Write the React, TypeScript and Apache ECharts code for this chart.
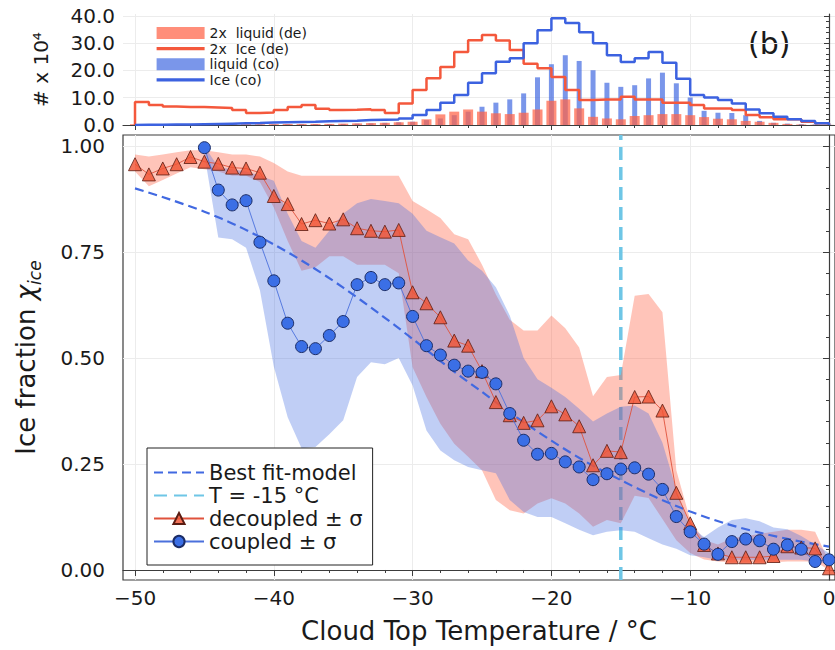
import React, { useEffect, useRef } from "react";
import * as echarts from "echarts";

const FONT = "DejaVu Sans";

// Cloud top temperature grid (°C) for the ice-fraction profiles
const temps = [
  -50, -49, -48, -47, -46, -45, -44, -43, -42, -41, -40, -39, -38, -37, -36, -35, -34,
  -33, -32, -31, -30, -29, -28, -27, -26, -25, -24, -23, -22, -21, -20, -19, -18, -17,
  -16, -15, -14, -13, -12, -11, -10, -9, -8, -7, -6, -5, -4, -3, -2, -1, 0,
];

// Decoupled clouds: mean ice fraction and the ±σ envelope
const decoupledMean = [
  0.957, 0.933, 0.947, 0.957, 0.974, 0.963, 0.958, 0.949, 0.947, 0.937, 0.882, 0.863,
  0.816, 0.825, 0.817, 0.827, 0.806, 0.8, 0.798, 0.802, 0.655, 0.629, 0.596, 0.541,
  0.529, 0.469, 0.396, 0.365, 0.347, 0.353, 0.386, 0.367, 0.339, 0.247, 0.281, 0.278,
  0.408, 0.409, 0.376, 0.182, 0.11, 0.059, 0.039, 0.03, 0.03, 0.03, 0.033, 0.056, 0.053,
  0.051, 0.004,
];
const decoupledLow = [
  0.94, 0.905, 0.92, 0.935, 0.95, 0.945, 0.94, 0.93, 0.93, 0.915, 0.855, 0.776, 0.706,
  0.714, 0.74, 0.74, 0.72, 0.72, 0.72, 0.7, 0.478, 0.408, 0.345, 0.298, 0.267, 0.235,
  0.165, 0.141, 0.133, 0.157, 0.169, 0.157, 0.133, 0.102, 0.118, 0.11, 0.175, 0.17, 0.12,
  0.07, 0.04, 0.025, 0.02, 0.018, 0.018, 0.018, 0.018, 0.02, 0.02, 0.02, 0.0,
];
const decoupledHigh = [
  0.98, 0.975, 0.98, 0.985, 0.99, 0.99, 0.985, 0.98, 0.98, 0.975, 0.96, 0.94, 0.93,
  0.93, 0.93, 0.93, 0.93, 0.93, 0.93, 0.93, 0.87, 0.851, 0.83, 0.792, 0.78, 0.72, 0.65,
  0.59, 0.565, 0.565, 0.6, 0.57, 0.525, 0.41, 0.455, 0.46, 0.647, 0.651, 0.608, 0.235,
  0.118, 0.071, 0.06, 0.075, 0.08, 0.085, 0.09, 0.095, 0.095, 0.09, 0.02,
];

// Coupled clouds start at -45 °C
const coupledTemps = [
  -45, -44, -43, -42, -41, -40, -39, -38, -37, -36, -35, -34, -33, -32, -31, -30, -29,
  -28, -27, -26, -25, -24, -23, -22, -21, -20, -19, -18, -17, -16, -15, -14, -13, -12,
  -11, -10, -9, -8, -7, -6, -5, -4, -3, -2, -1, 0,
];
const coupledMean = [
  0.996, 0.896, 0.861, 0.871, 0.773, 0.682, 0.582, 0.527, 0.522, 0.553, 0.586, 0.673,
  0.69, 0.673, 0.677, 0.598, 0.529, 0.507, 0.483, 0.469, 0.466, 0.439, 0.369, 0.306,
  0.273, 0.275, 0.255, 0.243, 0.213, 0.227, 0.238, 0.241, 0.226, 0.19, 0.126, 0.09,
  0.061, 0.037, 0.067, 0.073, 0.069, 0.049, 0.059, 0.049, 0.02, 0.024,
];
const coupledLow = [
  0.98, 0.784, 0.78, 0.76, 0.66, 0.48, 0.36, 0.287, 0.29, 0.32, 0.353, 0.455, 0.49,
  0.485, 0.5, 0.435, 0.329, 0.282, 0.259, 0.243, 0.235, 0.228, 0.165, 0.137, 0.125,
  0.125, 0.11, 0.095, 0.082, 0.09, 0.094, 0.09, 0.075, 0.06, 0.05, 0.035, 0.03, 0.024,
  0.024, 0.024, 0.024, 0.024, 0.024, 0.024, 0.02, 0.015,
];
const coupledHigh = [
  1.0, 0.95, 0.945, 0.94, 0.93, 0.918, 0.84, 0.776, 0.76, 0.8, 0.84, 0.865, 0.875, 0.87,
  0.865, 0.84, 0.8, 0.785, 0.77, 0.73, 0.706, 0.667, 0.6, 0.5, 0.45, 0.43, 0.408, 0.38,
  0.35, 0.369, 0.385, 0.388, 0.369, 0.3, 0.19, 0.102, 0.078, 0.1, 0.118, 0.122, 0.115,
  0.1, 0.096, 0.08, 0.06, 0.04,
];

// Best fit-model curve
const fitTemps = [
  -50, -47.5, -45, -42.5, -40, -37.5, -35, -32.5, -30, -27.5, -25, -22.5, -20, -17.5,
  -15, -12.5, -10, -7.5, -5, -2.5, 0,
];
const fitValues = [
  0.9, 0.874, 0.845, 0.81, 0.768, 0.72, 0.666, 0.607, 0.545, 0.48, 0.42, 0.36, 0.305,
  0.255, 0.212, 0.172, 0.138, 0.11, 0.088, 0.07, 0.055,
];

const thresholdTemp = -15;

// Histogram counts (# x 10^4); bins are 1 °C wide, keyed by left edge
const binEdges = [
  -50, -49, -48, -47, -46, -45, -44, -43, -42, -41, -40, -39, -38, -37, -36, -35, -34,
  -33, -32, -31, -30, -29, -28, -27, -26, -25, -24, -23, -22, -21, -20, -19, -18, -17,
  -16, -15, -14, -13, -12, -11, -10, -9, -8, -7, -6, -5, -4, -3, -2, -1,
];
const iceDecoupled2x = [
  8.4, 7.3, 6.8, 6.6, 6.6, 6.4, 6.2, 5.5, 4.4, 4.6, 5.5, 6.6, 7.3, 6.0, 5.5, 5.6, 5.8,
  5.5, 4.4, 7.9, 12.8, 17.2, 21.3, 26.8, 31.1, 33.0, 31.0, 27.5, 22.5, 20.8, 17.6, 12.8,
  9.2, 9.4, 9.4, 10.4, 9.4, 9.4, 8.2, 8.2, 7.3, 6.1, 6.1, 5.5, 3.7, 2.8, 2.1, 2.1, 1.2,
  0.6,
];
const iceCoupled = [
  0.1, 0.1, 0.2, 0.2, 0.3, 0.4, 0.5, 0.6, 0.7, 0.9, 1.0, 1.1, 1.2, 1.4, 1.5, 1.6, 1.8,
  1.9, 2.0, 2.4, 3.7, 5.5, 8.2, 11.0, 15.5, 19.0, 23.2, 24.5, 30.0, 34.8, 39.2, 37.4,
  34.0, 30.0, 25.6, 23.1, 24.5, 26.8, 22.8, 17.0, 11.0, 10.1, 9.2, 7.9, 5.7, 4.3, 3.0,
  2.1, 1.5, 0.6,
];
const liquidDecoupled2x = [
  0.3, 0.3, 0.3, 0.3, 0.3, 0.3, 0.3, 0.3, 0.3, 0.3, 0.3, 0.35, 0.35, 0.4, 0.4, 0.5, 0.6,
  0.7, 0.8, 1.0, 1.2, 2.1, 3.9, 4.9, 5.7, 4.9, 4.3, 4.0, 4.5, 5.7, 8.9, 9.4, 6.1, 3.0,
  2.4, 2.1, 3.3, 3.6, 4.0, 4.0, 3.6, 2.9, 2.3, 2.1, 1.5, 1.2, 0.8, 0.4, 0.2, 0.1, 0.05,
];
const liquidCoupled = [
  0.05, 0.05, 0.05, 0.1, 0.1, 0.1, 0.1, 0.15, 0.15, 0.2, 0.2, 0.25, 0.3, 0.3, 0.35, 0.4,
  0.5, 0.6, 0.8, 1.0, 1.2, 1.8, 2.4, 3.6, 4.9, 6.7, 8.2, 9.4, 11.6, 17.5, 22.3, 25.6,
  23.5, 20.1, 15.5, 14.0, 14.6, 17.1, 19.2, 15.3, 10.1, 5.2, 4.5, 4.4, 3.6, 1.5, 0.8, 0.5,
  0.3, 0.2, 0.1,
];

// Tick positions
const xMajorTicks = [-50, -40, -30, -20, -10, 0];
const xMinorTicks = [
  -48, -46, -44, -42, -38, -36, -34, -32, -28, -26, -24, -22, -18, -16, -14, -12, -8, -6,
  -4, -2,
];
const fracMajorTicks = [0, 0.25, 0.5, 0.75, 1.0];
const fracMinorTicks = [
  0.05, 0.1, 0.15, 0.2, 0.3, 0.35, 0.4, 0.45, 0.55, 0.6, 0.65, 0.7, 0.8, 0.85, 0.9, 0.95,
];
const countMajorTicks = [0, 10, 20, 30, 40];
const countMinorTicks = [2, 4, 6, 8, 12, 14, 16, 18, 22, 24, 26, 28, 32, 34, 36, 38];

// Axis extents
const X_MIN = -50.865;
const X_MAX = 0.432;
const FRAC_MIN = -0.0236;
const FRAC_MAX = 1.0259;
const COUNT_MAX = 40.73;

const AXIS_COLOR = "#3c3c3c";
const GRID_COLOR = "#ececec";
const TEXT_COLOR = "#1a1a1a";

const minus = (v: number) => (v < 0 ? "\u2212" + Math.abs(v) : String(v));

function stepRows(edges: number[], values: number[], end: number) {
  const rows: number[][] = [[edges[0], 0]];
  edges.forEach((e, i) => rows.push([e, values[i]]));
  rows.push([end, values[values.length - 1]]);
  rows.push([end, 0]);
  return rows;
}

function bandSeries(
  xs: number[],
  low: number[],
  high: number[],
  fill: string,
  opacity: number,
  z: number
) {
  return {
    type: "custom",
    xAxisIndex: 0,
    yAxisIndex: 0,
    z,
    silent: true,
    clip: true,
    data: [[xs[0], low[0]]],
    renderItem: (_params: any, api: any) => {
      const top = xs.map((x, i) => api.coord([x, high[i]]));
      const bottom = xs.map((x, i) => api.coord([x, low[i]])).reverse();
      return {
        type: "polygon",
        shape: { points: top.concat(bottom) },
        style: { fill, opacity },
      };
    },
  };
}

function minorAxis(gridIndex: number, min: number, max: number, ticks: number[], isX: boolean) {
  return {
    type: "value",
    gridIndex,
    min,
    max,
    position: isX ? "bottom" : "left",
    axisLine: { show: false },
    axisLabel: { show: false },
    splitLine: { show: false },
    axisTick: {
      show: true,
      length: 3,
      customValues: ticks,
      lineStyle: { color: AXIS_COLOR, width: 1 },
    },
  };
}

// Legend entries for plain lines: keep the line, hide the marker
const lineOnly = { itemStyle: { opacity: 0 } };
const thickLineOnly = { itemStyle: { opacity: 0 }, lineStyle: { width: 3.2 } };

const option: any = {
  animation: false,
  backgroundColor: "#ffffff",
  textStyle: { fontFamily: FONT },
  grid: [
    {
      left: 123,
      right: 0,
      top: 135,
      bottom: 70,
      show: true,
      borderColor: AXIS_COLOR,
      borderWidth: 1.2,
      outerBoundsMode: "none",
    },
    { left: 123, right: 0, top: 14, bottom: 525, outerBoundsMode: "none" },
  ],
  xAxis: [
    {
      type: "value",
      gridIndex: 0,
      min: X_MIN,
      max: X_MAX,
      position: "bottom",
      axisLine: { show: true, lineStyle: { color: AXIS_COLOR, width: 1.2 } },
      axisTick: { show: true, length: 6, customValues: xMajorTicks, lineStyle: { color: AXIS_COLOR } },
      axisLabel: {
        customValues: xMajorTicks,
        formatter: minus,
        fontSize: 20,
        color: TEXT_COLOR,
        margin: 8,
        fontFamily: FONT,
      },
      splitLine: { show: true, lineStyle: { color: GRID_COLOR, width: 1 } },
      name: "Cloud Top Temperature / °C",
      nameLocation: "middle",
      nameGap: 38,
      nameMoveOverlap: false,
      nameTextStyle: { fontSize: 26, color: TEXT_COLOR, fontFamily: FONT },
    },
    minorAxis(0, X_MIN, X_MAX, xMinorTicks, true),
    {
      type: "value",
      gridIndex: 1,
      min: X_MIN,
      max: X_MAX,
      position: "bottom",
      axisLine: { show: true, lineStyle: { color: AXIS_COLOR, width: 1.2 } },
      axisTick: { show: true, length: 5, customValues: xMajorTicks, lineStyle: { color: AXIS_COLOR } },
      axisLabel: { show: false, customValues: xMajorTicks },
      splitLine: { show: true, lineStyle: { color: GRID_COLOR, width: 1 } },
    },
    minorAxis(1, X_MIN, X_MAX, xMinorTicks, true),
  ],
  yAxis: [
    {
      type: "value",
      gridIndex: 0,
      min: FRAC_MIN,
      max: FRAC_MAX,
      position: "left",
      axisLine: { show: true, lineStyle: { color: AXIS_COLOR, width: 1.2 } },
      axisTick: { show: true, length: 6, customValues: fracMajorTicks, lineStyle: { color: AXIS_COLOR } },
      axisLabel: {
        customValues: fracMajorTicks,
        formatter: (v: number) => v.toFixed(2),
        fontSize: 20,
        color: TEXT_COLOR,
        margin: 18,
        fontFamily: FONT,
      },
      splitLine: { show: true, lineStyle: { color: GRID_COLOR, width: 1 } },
      name: "{t|Ice fraction }{c|χ}{s|ice}",
      nameLocation: "middle",
      nameGap: 80,
      nameMoveOverlap: false,
      nameTextStyle: {
        color: TEXT_COLOR,
        rich: {
          t: { fontSize: 26, fontFamily: FONT, color: TEXT_COLOR, lineHeight: 34 },
          c: { fontSize: 26, fontFamily: FONT, fontStyle: "italic", color: TEXT_COLOR, lineHeight: 34 },
          s: {
            fontSize: 17,
            fontFamily: FONT,
            fontStyle: "italic",
            color: TEXT_COLOR,
            lineHeight: 34,
            verticalAlign: "bottom",
          },
        },
      },
    },
    minorAxis(0, FRAC_MIN, FRAC_MAX, fracMinorTicks, false),
    {
      type: "value",
      gridIndex: 1,
      min: 0,
      max: COUNT_MAX,
      position: "left",
      axisLine: { show: true, lineStyle: { color: AXIS_COLOR, width: 1.2 } },
      axisTick: { show: true, length: 5, customValues: countMajorTicks, lineStyle: { color: AXIS_COLOR } },
      axisLabel: {
        customValues: countMajorTicks,
        formatter: (v: number) => v.toFixed(1),
        fontSize: 20,
        color: TEXT_COLOR,
        margin: 8,
        fontFamily: FONT,
      },
      splitLine: { show: true, lineStyle: { color: GRID_COLOR, width: 1 } },
      name: "# x 10⁴",
      nameLocation: "middle",
      nameGap: 72,
      nameMoveOverlap: false,
      nameTextStyle: { fontSize: 20, color: TEXT_COLOR, fontFamily: FONT },
    },
    minorAxis(1, 0, COUNT_MAX, countMinorTicks, false),
  ],
  legend: [
    {
      data: [
        { name: "Best fit-model", ...lineOnly },
        { name: "T = -15 °C", ...lineOnly },
        { name: "decoupled ± σ" },
        { name: "coupled ± σ" },
      ],
      orient: "vertical",
      left: 147,
      top: 448,
      backgroundColor: "#ffffff",
      borderColor: "#222222",
      borderWidth: 1,
      borderRadius: 0,
      padding: [14, 10, 13, 6],
      itemGap: 2,
      itemWidth: 50,
      itemHeight: 14,
      selectedMode: false,
      textStyle: { fontSize: 21, fontFamily: FONT, color: TEXT_COLOR },
    },
    {
      data: [
        { name: "2x  liquid (de)", icon: "rect" },
        { name: "2x  Ice (de)", ...thickLineOnly },
        { name: "liquid (co)", icon: "rect" },
        { name: "Ice (co)", ...thickLineOnly },
      ],
      orient: "vertical",
      left: 155,
      top: 26,
      padding: 0,
      itemGap: 1.6,
      itemWidth: 48,
      itemHeight: 12,
      selectedMode: false,
      textStyle: { fontSize: 14, fontFamily: FONT, color: TEXT_COLOR },
    },
  ],
  graphic: [
    {
      type: "text",
      left: 748,
      top: 28,
      style: { text: "(b)", fontSize: 30, fontFamily: FONT, fill: TEXT_COLOR },
    },
  ],
  series: [
    {
      name: "T = -15 °C",
      type: "line",
      xAxisIndex: 0,
      yAxisIndex: 0,
      z: 1,
      symbol: "none",
      data: [
        [thresholdTemp, FRAC_MIN],
        [thresholdTemp, FRAC_MAX],
      ],
      lineStyle: { color: "#6ec6e6", width: 3.5, type: [13, 7] },
      itemStyle: { color: "#6ec6e6" },
    },
    bandSeries(temps, decoupledLow, decoupledHigh, "#ff6347", 0.38, 2),
    bandSeries(coupledTemps, coupledLow, coupledHigh, "#4169e1", 0.33, 2),
    {
      name: "Best fit-model",
      type: "line",
      xAxisIndex: 0,
      yAxisIndex: 0,
      z: 3,
      symbol: "none",
      smooth: 0.3,
      data: fitTemps.map((t, i) => [t, fitValues[i]]),
      lineStyle: { color: "#4169e1", width: 2.2, type: [9, 5] },
      itemStyle: { color: "#4169e1" },
    },
    {
      name: "decoupled ± σ",
      type: "line",
      xAxisIndex: 0,
      yAxisIndex: 0,
      z: 4,
      symbol: "triangle",
      symbolSize: 13,
      data: temps.map((t, i) => [t, decoupledMean[i]]),
      lineStyle: { color: "#e0523c", width: 0.9 },
      itemStyle: { color: "rgba(240,84,52,0.82)", borderColor: "#5a1c12", borderWidth: 0.8 },
    },
    {
      name: "coupled ± σ",
      type: "line",
      xAxisIndex: 0,
      yAxisIndex: 0,
      z: 5,
      symbol: "circle",
      symbolSize: 12,
      data: coupledTemps.map((t, i) => [t, coupledMean[i]]),
      lineStyle: { color: "#4b70dc", width: 0.9 },
      itemStyle: { color: "#3b6fe6", borderColor: "#1b2c66", borderWidth: 1 },
    },
    {
      name: "liquid (co)",
      type: "bar",
      xAxisIndex: 2,
      yAxisIndex: 2,
      barWidth: 5,
      data: temps.map((t, i) => [t, liquidCoupled[i]]),
      itemStyle: { color: "#4169e1", opacity: 0.7 },
    },
    {
      name: "2x  liquid (de)",
      type: "bar",
      xAxisIndex: 3,
      yAxisIndex: 3,
      barWidth: 10,
      data: temps.map((t, i) => [t, liquidDecoupled2x[i]]),
      itemStyle: { color: "#ff6347", opacity: 0.72 },
    },
    {
      name: "2x  Ice (de)",
      type: "line",
      xAxisIndex: 2,
      yAxisIndex: 2,
      step: "end",
      symbol: "none",
      data: stepRows(binEdges, iceDecoupled2x, 0),
      lineStyle: { color: "#f4583c", width: 2.5 },
      itemStyle: { color: "#f4583c" },
    },
    {
      name: "Ice (co)",
      type: "line",
      xAxisIndex: 2,
      yAxisIndex: 2,
      step: "end",
      symbol: "none",
      data: stepRows(binEdges, iceCoupled, 0),
      lineStyle: { color: "#3c62e0", width: 2.5 },
      itemStyle: { color: "#3c62e0" },
    },
  ],
};

export default function App() {
  const ref = useRef<HTMLDivElement>(null);
  useEffect(() => {
    if (!ref.current) return;
    const chart = echarts.init(ref.current, null, { renderer: "svg" });
    chart.setOption(option);
    return () => chart.dispose();
  }, []);
  return (
    <div
      ref={ref}
      style={{ position: "absolute", left: 0, top: 0, width: 835, height: 650, background: "#fff" }}
    />
  );
}
